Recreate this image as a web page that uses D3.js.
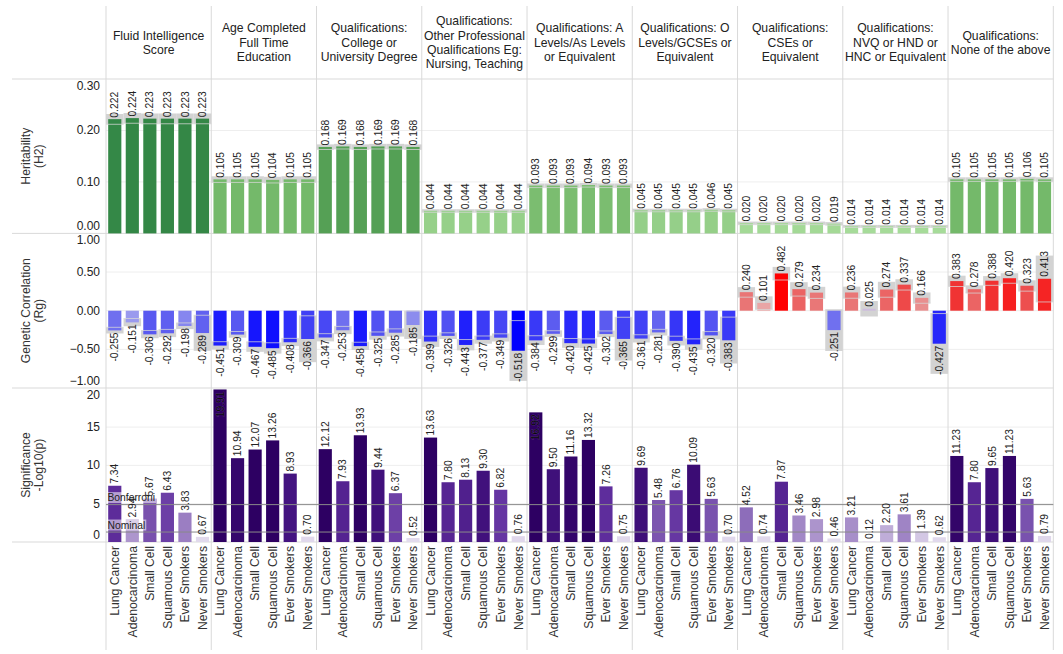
<!DOCTYPE html>
<html>
<head>
<meta charset="utf-8">
<script src="https://cdn.jsdelivr.net/npm/d3@7/dist/d3.min.js"></script>
<style>
  body { margin: 0; background: #fff; }
  svg text { font-family: "Liberation Sans", Arial, sans-serif; }
</style>
</head>
<body>
<div id="chart"></div>
<script>
// Column headers (one entry per trait, split into lines)
const traitLabels = [
    ['Fluid Intelligence', 'Score'],
    ['Age Completed', 'Full Time', 'Education'],
    ['Qualifications:', 'College or', 'University Degree'],
    ['Qualifications:', 'Other Professional', 'Qualifications Eg:', 'Nursing, Teaching'],
    ['Qualifications: A', 'Levels/As Levels', 'or Equivalent'],
    ['Qualifications: O', 'Levels/GCSEs or', 'Equivalent'],
    ['Qualifications:', 'CSEs or', 'Equivalent'],
    ['Qualifications:', 'NVQ or HND or', 'HNC or Equivalent'],
    ['Qualifications:', 'None of the above']
];

const outcomes = ['Lung Cancer', 'Adenocarcinoma', 'Small Cell', 'Squamous Cell', 'Ever Smokers', 'Never Smokers'];

// Heritability (H2) per trait x outcome
const h2 = [
    [0.222, 0.224, 0.223, 0.223, 0.223, 0.223],
    [0.105, 0.105, 0.105, 0.104, 0.105, 0.105],
    [0.168, 0.169, 0.168, 0.169, 0.169, 0.168],
    [0.044, 0.044, 0.044, 0.044, 0.044, 0.044],
    [0.093, 0.093, 0.093, 0.094, 0.093, 0.093],
    [0.045, 0.045, 0.045, 0.045, 0.046, 0.045],
    [0.020, 0.020, 0.020, 0.020, 0.020, 0.019],
    [0.014, 0.014, 0.014, 0.014, 0.014, 0.014],
    [0.105, 0.105, 0.105, 0.105, 0.106, 0.105]
];
// half width of the grey H2 band, per trait
const h2Band = [0.010, 0.006, 0.005, 0.003, 0.004, 0.003, 0.003, 0.0025, 0.004];

// Genetic correlation (Rg)
const rg = [
    [-0.255, -0.151, -0.306, -0.292, -0.198, -0.289],
    [-0.451, -0.309, -0.467, -0.485, -0.408, -0.366],
    [-0.347, -0.253, -0.458, -0.325, -0.285, -0.185],
    [-0.399, -0.326, -0.443, -0.377, -0.349, -0.518],
    [-0.384, -0.299, -0.420, -0.425, -0.302, -0.365],
    [-0.361, -0.281, -0.390, -0.435, -0.320, -0.383],
    [0.240, 0.101, 0.482, 0.279, 0.234, -0.251],
    [0.236, 0.025, 0.274, 0.337, 0.166, -0.427],
    [0.383, 0.278, 0.388, 0.420, 0.323, 0.413]
];
// half width of the grey Rg band
const rgBand = [
    [0.04, 0.05, 0.05, 0.05, 0.04, 0.23],
    [0.05, 0.04, 0.065, 0.07, 0.05, 0.30],
    [0.05, 0.05, 0.05, 0.05, 0.05, 0.18],
    [0.07, 0.04, 0.07, 0.05, 0.05, 0.39],
    [0.06, 0.04, 0.06, 0.06, 0.04, 0.28],
    [0.05, 0.04, 0.06, 0.07, 0.05, 0.30],
    [0.065, 0.085, 0.085, 0.09, 0.075, 0.27],
    [0.075, 0.10, 0.10, 0.07, 0.07, 0.39],
    [0.07, 0.05, 0.06, 0.065, 0.07, 0.30]
];

// Significance -log10(p)
const sig = [
    [7.34, 2.94, 5.67, 6.43, 3.83, 0.67],
    [19.91, 10.94, 12.07, 13.26, 8.93, 0.70],
    [12.12, 7.93, 13.93, 9.44, 6.37, 0.52],
    [13.63, 7.80, 8.13, 9.30, 6.82, 0.76],
    [16.92, 9.50, 11.16, 13.32, 7.26, 0.75],
    [9.69, 5.48, 6.76, 10.09, 5.63, 0.70],
    [4.52, 0.74, 7.87, 3.46, 2.98, 0.46],
    [3.21, 0.12, 2.20, 3.61, 1.39, 0.62],
    [11.23, 7.80, 9.65, 11.23, 5.63, 0.79]
];
const thresholds = [{ name: 'Bonferroni', value: 4.88 }, { name: 'Nominal', value: 1.3 }];

const h2Ticks = [0, 0.1, 0.2, 0.3];
const rgTicks = [-1, -0.5, 0, 0.5, 1];
const sigTicks = [0, 5, 10, 15, 20];

const width = 1063, height = 654;
const left = 106, right = 1053.3;
const headerTop = 6, headerBottom = 79, labelBottom = 650;
const gridColor = '#eeeeee', sepColor = '#d9d9d9', bandColor = '#d3d3d3';

const svg = d3.select('#chart').append('svg')
    .attr('width', width)
    .attr('height', height);

const colScale = d3.scaleBand().domain(d3.range(traitLabels.length)).range([left, right]);
const barScale = d3.scaleBand().domain(outcomes)
    .range([0, colScale.bandwidth()])
    .paddingInner(0.25)
    .paddingOuter(0.125);
const step = barScale.step();

const rows = traitLabels.flatMap((t, ti) => outcomes.map((o, oi) => ({
    ti, o,
    h2: h2[ti][oi], h2b: h2Band[ti],
    rg: rg[ti][oi], rgb: rgBand[ti][oi],
    sig: sig[ti][oi]
})));
const xBar = d => colScale(d.ti) + barScale(d.o);
const xMid = d => xBar(d) + barScale.bandwidth() / 2;

const panels = [
    { key: 'h2', y: d3.scaleLinear().domain([0, 0.3]).range([233.4, 79]), ticks: h2Ticks, fmt: d3.format('.2f'), title: ['Heritability', '(H2)'] },
    { key: 'rg', y: d3.scaleLinear().domain([-1, 1]).range([388, 233.4]), ticks: rgTicks, fmt: d3.format('.2f'), title: ['Genetic Correlation', '(Rg)'] },
    { key: 'sig', y: d3.scaleLinear().domain([0, 20.1]).range([542, 388]), ticks: sigTicks, fmt: d3.format('d'), title: ['Significance', '-Log10(p)'] }
];

const h2Color = d3.scaleLinear().domain([0, 0.105, 0.168, 0.224])
    .range(['#aee0a0', '#74b96a', '#55a055', '#338746']).clamp(true);
const rgColor = d3.scaleLinear().domain([-0.52, -0.45, -0.3, -0.15, 0, 0.1, 0.24, 0.38, 0.48])
    .range(['#0000ff', '#1d1dfc', '#5c5cf0', '#9a9aee', '#c4c4f0', '#e9a5a5', '#e97575', '#f03535', '#ff0000']).clamp(true);
const sigColor = d3.scaleLinear().domain([0, 1, 3, 5, 7, 9, 12])
    .range(['#e8e2f0', '#ddd4ea', '#ab93cc', '#8461b4', '#6231a0', '#43137f', '#2d0062']).clamp(true);

// Grid lines
panels.forEach(p => {
    svg.append('g').selectAll('line')
        .data(p.ticks.filter(t => p.y(t) > p.y.range()[1] + 1 && p.y(t) < p.y.range()[0] - 1))
        .join('line')
        .attr('x1', left).attr('x2', right)
        .attr('y1', d => p.y(d)).attr('y2', d => p.y(d))
        .attr('stroke', gridColor);
});

// Column and row separators
svg.append('g').selectAll('line')
    .data(d3.range(traitLabels.length + 1))
    .join('line')
    .attr('x1', d => d < traitLabels.length ? colScale(d) : right)
    .attr('x2', d => d < traitLabels.length ? colScale(d) : right)
    .attr('y1', headerTop).attr('y2', labelBottom)
    .attr('stroke', sepColor);

svg.append('g').selectAll('line')
    .data([headerBottom, 233.4, 388, 542])
    .join('line')
    .attr('x1', 12).attr('x2', right)
    .attr('y1', d => d).attr('y2', d => d)
    .attr('stroke', sepColor);

// Headers
const header = svg.append('g').selectAll('text')
    .data(traitLabels)
    .join('text')
    .attr('text-anchor', 'middle')
    .attr('font-size', '12.2px')
    .attr('fill', '#222');
header.each(function (lines, i) {
    const cy = (headerTop + headerBottom) / 2;
    const lh = 14.4;
    d3.select(this).selectAll('tspan')
        .data(lines)
        .join('tspan')
        .attr('x', colScale(i) + colScale.bandwidth() / 2)
        .attr('y', (d, j) => cy + (j - (lines.length - 1) / 2) * lh)
        .attr('dy', '0.35em')
        .text(d => d);
});

// Axes and row titles
panels.forEach(p => {
    const [bot, top] = p.y.range();
    const axis = svg.append('g')
        .attr('transform', `translate(${left - 3},0)`)
        .call(d3.axisLeft(p.y).tickValues(p.ticks).tickFormat(p.fmt).tickSize(0))
        .call(g => g.select('.domain').remove());
    axis.selectAll('.tick')
        .attr('transform', d => `translate(0,${Math.max(top + 7, Math.min(bot - 7, p.y(d)))})`);
    axis.selectAll('text')
        .attr('font-size', '12px')
        .attr('font-family', '"Liberation Sans", Arial, sans-serif')
        .attr('fill', '#222');

    svg.append('g')
        .attr('transform', `translate(0,${(top + bot) / 2}) rotate(-90)`)
        .selectAll('text')
        .data(p.title)
        .join('text')
        .attr('text-anchor', 'middle')
        .attr('x', 0)
        .attr('y', (d, j) => 29.5 + j * 13)
        .attr('font-size', '12.2px')
        .attr('fill', '#333')
        .text(d => d);
});

const [pH, pR, pS] = panels;
const labelFont = '10.3px';

// Heritability panel
const gH = svg.append('g');
gH.selectAll('.h-band').data(rows).join('rect')
    .attr('x', d => xMid(d) - step / 2)
    .attr('width', step)
    .attr('y', d => pH.y(d.h2 + d.h2b))
    .attr('height', d => pH.y(d.h2 - d.h2b) - pH.y(d.h2 + d.h2b))
    .attr('fill', bandColor);
gH.selectAll('.h-bar').data(rows).join('rect')
    .attr('x', xBar)
    .attr('width', barScale.bandwidth())
    .attr('y', d => pH.y(d.h2))
    .attr('height', d => pH.y(0) - pH.y(d.h2))
    .attr('fill', d => h2Color(d.h2));
gH.selectAll('.h-edge').data(rows).join('line')
    .attr('x1', d => xMid(d) - step / 2).attr('x2', d => xMid(d) + step / 2)
    .attr('y1', d => pH.y(d.h2 - d.h2b)).attr('y2', d => pH.y(d.h2 - d.h2b))
    .attr('stroke', 'rgba(215,215,215,0.75)');
gH.selectAll('.h-label').data(rows).join('text')
    .attr('transform', d => `translate(${xMid(d)},${pH.y(d.h2) - 1.5}) rotate(-90)`)
    .attr('dy', '0.35em')
    .attr('font-size', labelFont)
    .attr('fill', '#222')
    .text(d => d3.format('.3f')(d.h2));

// Genetic correlation panel
const gR = svg.append('g');
gR.selectAll('.r-band').data(rows).join('rect')
    .attr('x', d => xMid(d) - step / 2)
    .attr('width', step)
    .attr('y', d => pR.y(d.rg + d.rgb))
    .attr('height', d => pR.y(d.rg - d.rgb) - pR.y(d.rg + d.rgb))
    .attr('fill', bandColor);
gR.selectAll('.r-bar').data(rows).join('rect')
    .attr('x', xBar)
    .attr('width', barScale.bandwidth())
    .attr('y', d => pR.y(Math.max(0, d.rg)))
    .attr('height', d => Math.abs(pR.y(d.rg) - pR.y(0)))
    .attr('fill', d => rgColor(d.rg));
gR.selectAll('.r-edge').data(rows.flatMap(d => [
        { d, v: d.rg + d.rgb }, { d, v: d.rg - d.rgb }
    ]).filter(e => (e.d.rg < 0 ? e.v > e.d.rg && e.v < 0 : e.v < e.d.rg && e.v > 0)))
    .join('line')
    .attr('x1', e => xMid(e.d) - step / 2).attr('x2', e => xMid(e.d) + step / 2)
    .attr('y1', e => pR.y(e.v)).attr('y2', e => pR.y(e.v))
    .attr('stroke', 'rgba(215,215,215,0.75)');
gR.selectAll('.r-label').data(rows).join('text')
    .attr('transform', d => `translate(${xMid(d)},${pR.y(d.rg) + (d.rg < 0 ? 2 : -2)}) rotate(-90)`)
    .attr('text-anchor', d => d.rg < 0 ? 'end' : 'start')
    .attr('dy', '0.35em')
    .attr('font-size', labelFont)
    .attr('fill', '#222')
    .text(d => d3.format('.3f')(d.rg).replace('−', '-'));

// Significance panel
const gS = svg.append('g');
gS.selectAll('.s-bar').data(rows).join('rect')
    .attr('x', xBar)
    .attr('width', barScale.bandwidth())
    .attr('y', d => pS.y(d.sig))
    .attr('height', d => pS.y(0) - pS.y(d.sig))
    .attr('fill', d => sigColor(d.sig));

// Threshold lines with their labels
thresholds.forEach(t => {
    gS.append('line')
        .attr('x1', left).attr('x2', right)
        .attr('y1', pS.y(t.value)).attr('y2', pS.y(t.value))
        .attr('stroke', '#8a8a8a');
    const lbl = gS.append('text')
        .attr('x', left + 1.5)
        .attr('y', pS.y(t.value) - 3.5)
        .attr('font-size', '10.3px')
        .attr('fill', '#222')
        .text(t.name);
    const bb = lbl.node().getBBox();
    gS.insert('rect', 'text')
        .attr('x', bb.x - 1).attr('y', bb.y)
        .attr('width', bb.width + 2).attr('height', bb.height)
        .attr('fill', 'rgba(255,255,255,0.55)');
});

const sigFits = d => pS.y(d.sig) - 2 - 27 > pS.y.range()[1];
gS.selectAll('.s-label').data(rows).join('text')
    .attr('transform', d => sigFits(d)
        ? `translate(${xMid(d)},${pS.y(d.sig) - 2}) rotate(-90)`
        : `translate(${xMid(d)},${pS.y(d.sig) + 2}) rotate(-90)`)
    .attr('text-anchor', d => sigFits(d) ? 'start' : 'end')
    .attr('dy', '0.35em')
    .attr('font-size', labelFont)
    .attr('fill', d => sigFits(d) ? '#222' : '#0a0a0a')
    .attr('stroke', d => sigFits(d) ? 'none' : 'rgba(255,255,255,0.18)')
    .attr('stroke-width', 0.8)
    .attr('paint-order', 'stroke')
    .text(d => d3.format('.2f')(d.sig));

// Outcome labels along the bottom
svg.append('g').selectAll('text')
    .data(rows)
    .join('text')
    .attr('transform', d => `translate(${xMid(d)},546) rotate(-90)`)
    .attr('text-anchor', 'end')
    .attr('dy', '0.35em')
    .attr('font-size', '12.2px')
    .attr('fill', '#333')
    .text(d => d.o);
</script>
</body>
</html>
